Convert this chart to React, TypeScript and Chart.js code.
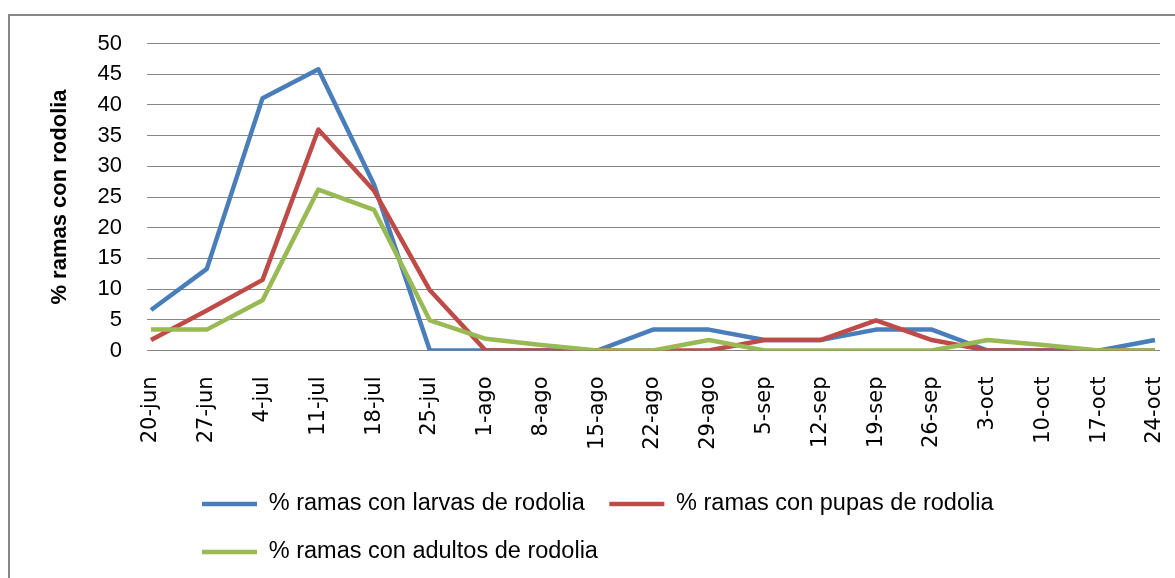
import React, { useEffect, useRef } from 'react';
import { Chart, registerables } from 'chart.js';

Chart.register(...registerables);

// ---- data ----
const categories = ['20-jun', '27-jun', '4-jul', '11-jul', '18-jul', '25-jul', '1-ago', '8-ago', '15-ago', '22-ago', '29-ago', '5-sep', '12-sep', '19-sep', '26-sep', '3-oct', '10-oct', '17-oct', '24-oct'];
const larvas = [6.6, 13.3, 41.1, 45.8, 27, 0, 0, 0, 0, 3.4, 3.4, 1.7, 1.7, 3.4, 3.4, 0, 0, 0, 1.7];
const pupas = [1.7, 6.5, 11.5, 36, 26, 9.8, 0, 0, 0, 0, 0, 1.7, 1.7, 4.9, 1.7, 0, 0, 0, 0];
const adultos = [3.4, 3.4, 8.2, 26.2, 22.9, 4.9, 1.9, 0.9, 0, 0, 1.7, 0, 0, 0, 0, 1.7, 0.9, 0, 0];
const seriesLabels = ['% ramas con larvas de rodolia', '% ramas con pupas de rodolia', '% ramas con adultos de rodolia'];
const seriesColors = ['#4A7EBB', '#BE4B48', '#98B954'];
const yTitle = '% ramas con rodolia';
const yMin = 0;
const yMax = 50;
const yStep = 5;

const GRID = '#868686';
const LEGEND_LEFT = 177.5;

const legendShift = {
  id: 'legendShift',
  afterLayout(chart: any) {
    if (chart.legend) chart.legend.left = LEGEND_LEFT;
  },
};

export default function App() {
  const ref = useRef<HTMLCanvasElement | null>(null);

  useEffect(() => {
    if (!ref.current) return;
    const seriesData = [larvas, pupas, adultos];
    const chart = new Chart(ref.current, {
      type: 'line',
      data: {
        labels: categories,
        datasets: seriesData.map((d, i) => ({
          label: seriesLabels[i],
          data: d,
          borderColor: seriesColors[i],
          backgroundColor: seriesColors[i],
          borderWidth: 4.5,
          pointRadius: 0,
          pointHoverRadius: 0,
          tension: 0,
          borderJoinStyle: 'round' as const,
          borderCapStyle: 'butt' as const,
          fill: false,
          order: 3 - i,
          yAxisID: 'y',
        })),
      },
      plugins: [legendShift],
      options: {
        animation: false,
        responsive: false,
        devicePixelRatio: 1,
        layout: { padding: { left: 40, right: 15, top: 43.5, bottom: 4.25 } },
        plugins: {
          tooltip: { enabled: false },
          legend: {
            display: true,
            position: 'bottom',
            align: 'start',
            labels: {
              color: '#000',
              font: { family: 'Liberation Sans', size: 23.5 },
              boxWidth: 55,
              boxHeight: 4.5,
              padding: 24.5,
              sort: (a: any, b: any) => a.datasetIndex - b.datasetIndex,
              generateLabels: (c: any) =>
                Chart.defaults.plugins.legend.labels.generateLabels(c).map((l: any) => ({
                  ...l,
                  fillStyle: l.strokeStyle,
                  lineWidth: 0,
                })),
            },
          },
        },
        scales: {
          x: {
            type: 'category',
            offset: false,
            grid: { display: false, drawTicks: false },
            border: { display: false },
            ticks: {
              color: '#000',
              font: { family: 'DejaVu Sans', size: 21 },
              minRotation: 90,
              maxRotation: 90,
              autoSkip: false,
              padding: 26,
            },
            afterFit: (s: any) => {
              s.height = 117.25;
              s.paddingLeft = 0;
              s.paddingRight = 0;
            },
          },
          y: {
            type: 'linear',
            position: 'left',
            min: yMin,
            max: yMax,
            grid: { color: GRID, lineWidth: 1, drawTicks: true, tickLength: 4 },
            border: { display: false },
            ticks: {
              stepSize: yStep,
              color: '#000',
              font: { family: 'Liberation Sans', size: 22 },
              padding: 25,
            },
            title: {
              display: true,
              text: yTitle,
              color: '#000',
              font: { family: 'Liberation Sans', size: 22, weight: 'bold' },
              padding: { top: 7, bottom: 0 },
            },
            afterFit: (s: any) => {
              s.width = 111;
            },
          },
          y2: {
            type: 'linear',
            position: 'right',
            min: yMin,
            max: yMax,
            grid: { color: GRID, lineWidth: 1, drawOnChartArea: false, drawTicks: true, tickLength: 5 },
            border: { display: false },
            ticks: { stepSize: yStep, display: false },
            afterFit: (s: any) => {
              s.width = 5;
            },
          },
        },
      },
    } as any);
    return () => chart.destroy();
  }, []);

  return (
    <div
      style={{
        position: 'fixed',
        left: 0,
        top: 0,
        width: 1175,
        height: 578,
        overflow: 'hidden',
        background: '#fff',
      }}
    >
      <div
        style={{
          position: 'absolute',
          left: 8,
          top: 14,
          width: 1400,
          height: 800,
          borderTop: '2px solid #878787',
          borderLeft: '2px solid #878787',
          boxSizing: 'border-box',
        }}
      />
      <canvas
        ref={ref}
        width={1175}
        height={578}
        style={{ position: 'absolute', left: 0, top: 0, width: 1175, height: 578 }}
      />
    </div>
  );
}
